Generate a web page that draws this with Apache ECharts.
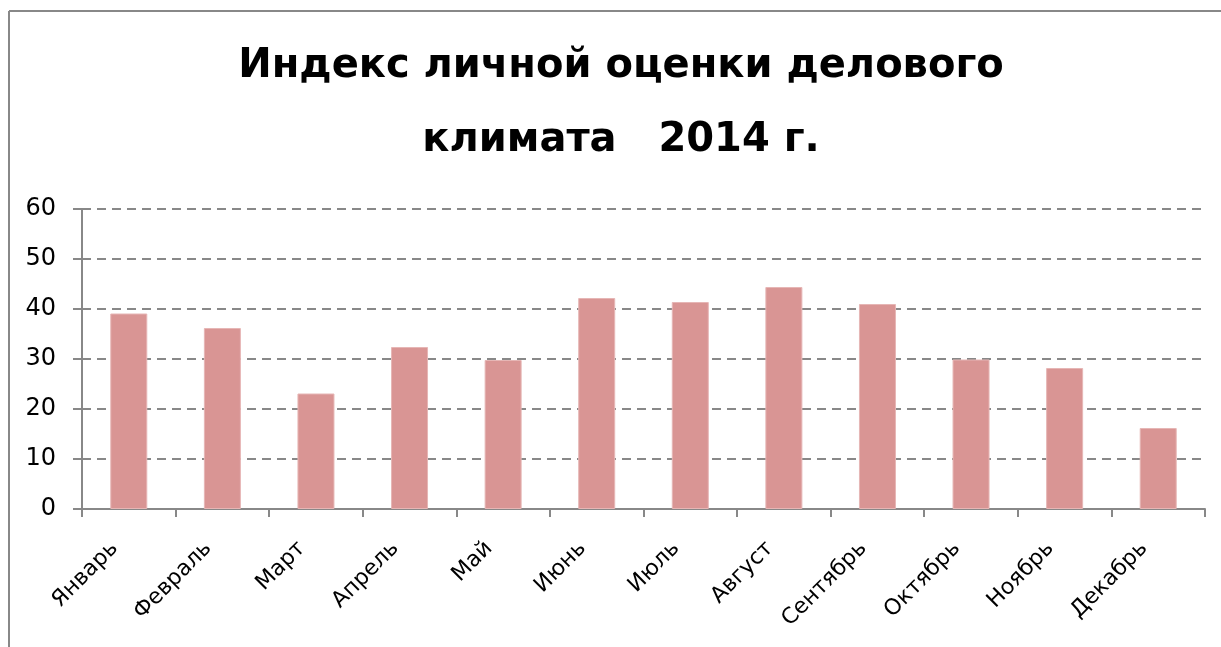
<!DOCTYPE html>
<html>
<head>
<meta charset="utf-8">
<script src="https://cdn.jsdelivr.net/npm/echarts@6/dist/echarts.min.js"></script>
<style>
  html, body { margin: 0; padding: 0; background: #fff; }
  #chart { width: 1221px; height: 647px; }
</style>
</head>
<body>
<div id="chart"></div>
<script>
// месяцы
var months = ['Январь', 'Февраль', 'Март', 'Апрель', 'Май', 'Июнь',
              'Июль', 'Август', 'Сентябрь', 'Октябрь', 'Ноябрь', 'Декабрь'];
// индекс, значения
var indexValues = [39.1, 36.2, 23.1, 32.4, 29.8, 42.2, 41.4, 44.4, 41.0, 29.9, 28.2, 16.2];
var yTicks = [0, 10, 20, 30, 40, 50, 60];

var chart = echarts.init(document.getElementById('chart'));

var gray = '#888888';

chart.setOption({
    animation: false,
    backgroundColor: '#fff',
    title: {
        text: 'Индекс личной оценки делового\nклимата   2014 г.',
        left: 621,
        textAlign: 'center',
        top: 30,
        padding: 0,
        textStyle: {
            fontFamily: 'DejaVu Sans',
            fontWeight: 'bold',
            fontSize: 40,
            lineHeight: 74,
            color: '#000'
        }
    },
    // рамка сверху и слева
    graphic: [
        { type: 'line', shape: { x1: 9, y1: 11, x2: 1221, y2: 11 }, style: { stroke: gray, lineWidth: 2 } },
        { type: 'line', shape: { x1: 9, y1: 11, x2: 9, y2: 647 }, style: { stroke: gray, lineWidth: 2 } }
    ],
    grid: { left: 82, right: 16, top: 209, bottom: 138 },
    xAxis: {
        type: 'category',
        data: months,
        axisLine: { lineStyle: { color: gray, width: 2 } },
        axisTick: { show: true, length: 8, lineStyle: { color: gray, width: 2 } },
        axisLabel: {
            rotate: 45,
            interval: 0,
            margin: 22,
            padding: [0, 20, 0, 0],
            fontFamily: 'DejaVu Sans',
            fontSize: 22,
            color: '#000'
        }
    },
    yAxis: {
        type: 'value',
        min: yTicks[0],
        max: yTicks[yTicks.length - 1],
        interval: 10,
        axisLine: { show: true, lineStyle: { color: gray, width: 2 } },
        axisTick: { show: true, length: 9, lineStyle: { color: gray, width: 2 } },
        axisLabel: {
            margin: 26,
            fontFamily: 'DejaVu Sans',
            fontSize: 24,
            color: '#000'
        },
        splitLine: { lineStyle: { color: gray, width: 2, type: [9, 6] } }
    },
    series: [{
        type: 'bar',
        data: indexValues,
        barWidth: 37,
        itemStyle: { color: '#d99594', borderColor: '#e6b6b5', borderWidth: 1 }
    }]
});
</script>
</body>
</html>
